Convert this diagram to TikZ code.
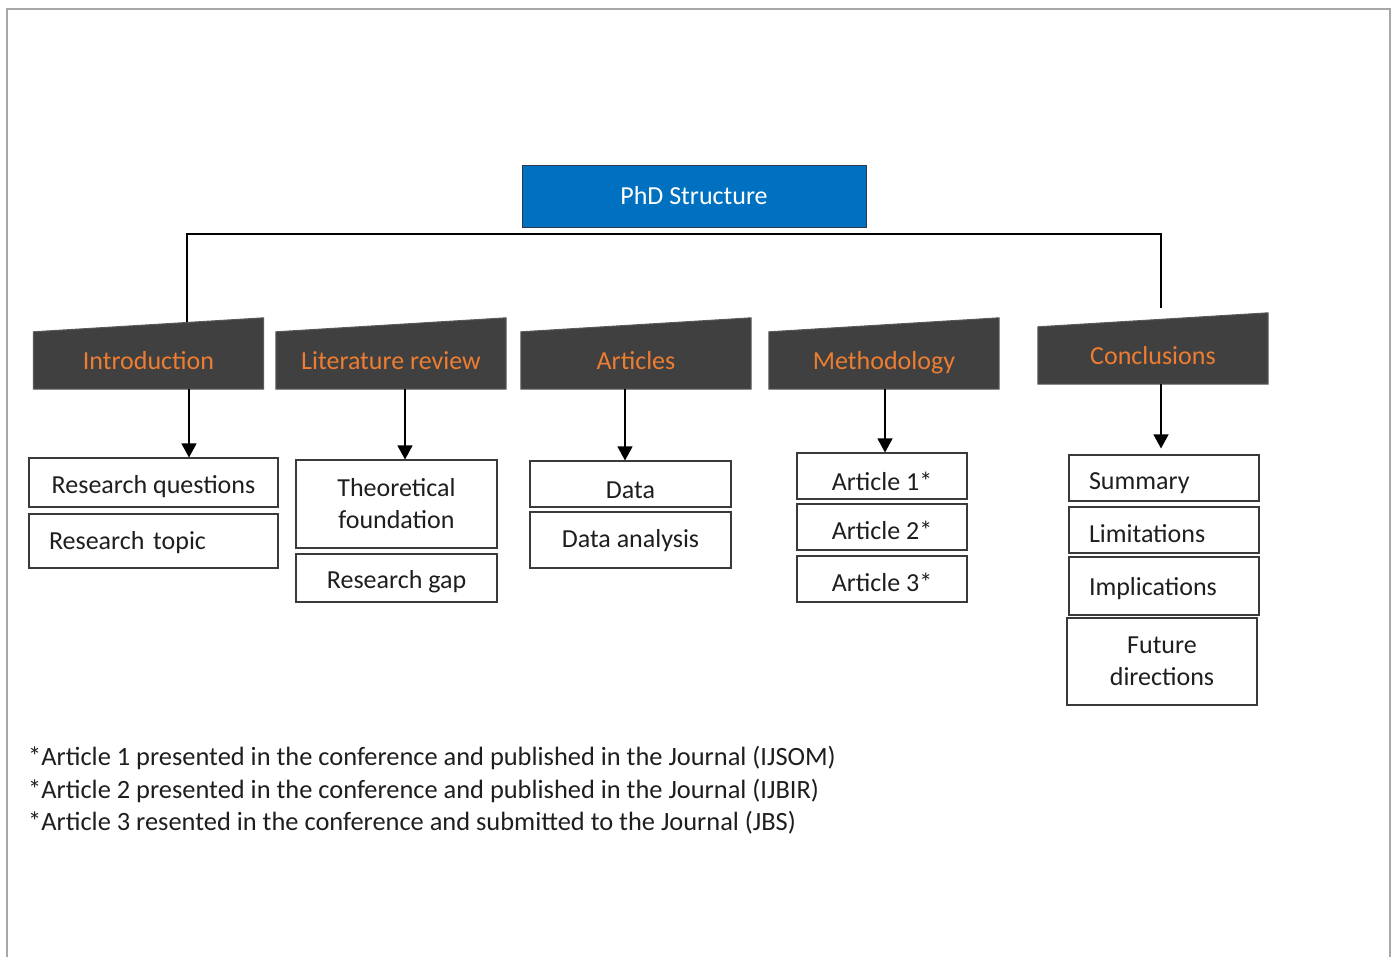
\documentclass[tikz,border=0pt]{standalone}
\usepackage{fontspec}
\setmainfont{Carlito}
\usetikzlibrary{arrows.meta,backgrounds}

\definecolor{phdblue}{HTML}{0070C0}
\definecolor{phdedge}{HTML}{2B3A4A}
\definecolor{hdrfill}{HTML}{404040}
\definecolor{hdredge}{HTML}{5A5A5A}
\definecolor{hdrtext}{HTML}{ED7D31}
\definecolor{boxedge}{HTML}{3A3A3A}
\definecolor{inktext}{HTML}{1E1E1E}
\definecolor{framegray}{HTML}{A8A8A8}

\newcommand{\mainsize}{\fontsize{26pt}{32pt}\selectfont}
\newcommand{\notesize}{\fontsize{26.4pt}{32pt}\selectfont}

\tikzset{
  % every label is Carlito at 26pt; th = text height that sets the vertical place of a single line
  basefont/.style={font=\mainsize},
  th/.style={text height=#1, text depth=6.5pt},
  phdbox/.style={basefont, fill=phdblue, draw=phdedge, line width=0.9pt, text=white,
    minimum width=344pt, minimum height=62pt, inner sep=0pt, th=23pt},
  hdr/.style={basefont, text=hdrtext, minimum width=230pt, minimum height=57pt,
    inner sep=0pt, th=25pt},
  hdrshape/.style={fill=hdrfill, draw=hdredge, line width=1pt},
  item/.style={basefont, text=inktext, draw=boxedge, line width=1.1pt, inner sep=0pt},
  leftitem/.style={item, inner xsep=20pt, align=left},
  multi/.style={item, align=center},
  arr/.style={line width=1.2pt, -{Triangle[width=15pt,length=14pt]}},
  bus/.style={line width=1.5pt},
  frameline/.style={draw=framegray, line width=1.5pt},
  note/.style={font=\notesize, text=inktext, anchor=base west, inner sep=0pt},
  x=1pt, y=-1pt
}

\begin{document}
\begin{tikzpicture}
\useasboundingbox (0,0) rectangle (1397,957);

% page frame, open at the bottom
\draw[frameline] (7,957) -- (7,9) -- (1390,9) -- (1390,957);

% title
\node[phdbox] (phd) at (694,196) {PhD Structure};

% chapter headers
\node[hdr] (intro) at (148.5,360.5) {Introduction};
\node[hdr] (lit)   at (391,360.5)   {Literature review};
\node[hdr] (art)   at (636,360.5)   {Articles};
\node[hdr] (meth)  at (884,360.5)   {Methodology};
\node[hdr] (concl) at (1153,355.5)  {Conclusions};

\begin{scope}[on background layer]
  \foreach \n in {intro,lit,art,meth,concl}
    \draw[hdrshape] (\n.south west) -- (\n.north west) -- ([yshift=14pt]\n.north east)
      -- (\n.south east) -- cycle;
\end{scope}

% Introduction
\node[item, minimum width=249pt, minimum height=49pt, th=29pt] (rq) at (153.5,482.5) {Research questions};
\node[leftitem, text width=209pt, minimum height=54pt, th=24pt] (rt) at (153.5,541) {Research topic};

% Literature review
\node[multi, minimum width=201pt, minimum height=88pt] (tf) at (396.5,504) {Theoretical\\foundation};
\node[item, minimum width=201pt, minimum height=48pt, th=28pt] (rg) at (396.5,578) {Research gap};

% Articles
\node[item, minimum width=201pt, minimum height=46pt, th=35pt] (da) at (630.5,484) {Data};
\node[item, minimum width=201pt, minimum height=56pt, th=21pt] (dan) at (630.5,540) {Data analysis};

% Methodology
\node[item, minimum width=170pt, minimum height=46pt, th=36pt] (a1) at (882,476) {Article 1*};
\node[item, minimum width=170pt, minimum height=46pt, th=31pt] (a2) at (882,527) {Article 2*};
\node[item, minimum width=170pt, minimum height=46pt, th=31pt] (a3) at (882,579) {Article 3*};

% Conclusions
\node[leftitem, text width=150pt, minimum height=46pt, th=30pt] (sum) at (1164,478) {Summary};
\node[leftitem, text width=150pt, minimum height=46pt, th=31pt] (lim) at (1164,530) {Limitations};
\node[leftitem, text width=150pt, minimum height=58pt, th=26pt] (imp) at (1164,586) {Implications};
\node[multi, minimum width=190pt, minimum height=87pt] (fd) at (1162,661.5) {Future\\directions};

% bus under the title
\coordinate (introTop) at ([xshift=38.5pt,yshift=9.3pt]intro.north);
\coordinate (busL) at (187,234);
\coordinate (busR) at (1161,234);
\coordinate (conclTap) at (1161,308);
\draw[bus] (introTop) -- (busL) -- (busR) -- (conclTap);

% header-to-item arrows
\coordinate (i0) at ([xshift=40.5pt]intro.south);
\coordinate (l0) at ([xshift=14pt]lit.south);
\coordinate (r0) at ([xshift=-11pt]art.south);
\coordinate (m0) at ([xshift=1pt]meth.south);
\coordinate (c0) at ([xshift=8pt]concl.south);
\draw[arr] (i0) -- (i0 |- rq.north);
\draw[arr] (l0) -- (l0 |- tf.north);
\draw[arr] (r0) -- (r0 |- da.north);
\draw[arr] (m0) -- (m0 |- a1.north);
\draw[arr, shorten >=6pt] (c0) -- (c0 |- sum.north);

% notes
\node[note] (fn1) at (28,765.7) {*Article 1 presented in the conference and published in the Journal (IJSOM)};
\node[note] (fn2) at (28,798.3) {*Article 2 presented in the conference and published in the Journal (IJBIR)};
\node[note] (fn3) at (28,830.7) {*Article 3 resented in the conference and submitted to the Journal (JBS)};
\end{tikzpicture}
\end{document}
